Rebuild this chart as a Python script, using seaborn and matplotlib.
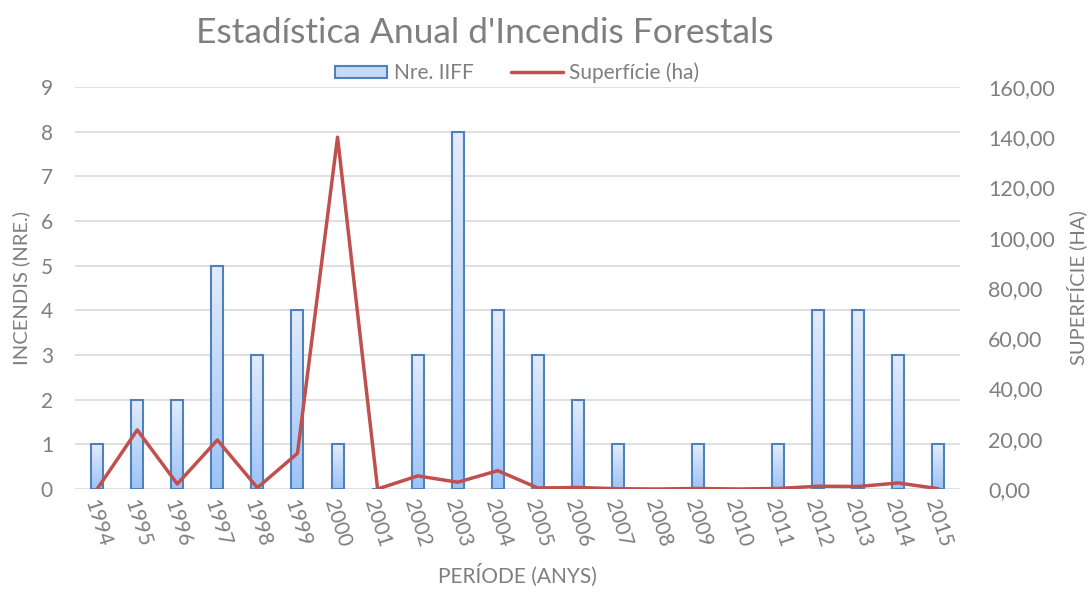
import numpy as np
import pandas as pd
import seaborn as sns
from matplotlib import pyplot as plt
from matplotlib.ticker import FuncFormatter
from matplotlib.patches import Patch
from matplotlib.lines import Line2D

years = [str(y) for y in range(1994, 2016)]
n_iiff = [1, 2, 2, 5, 3, 4, 1, 0, 3, 8, 4, 3, 2, 1, 0, 1, 0, 1, 4, 4, 3, 1]
superficie = [0.0, 23.5, 2.0, 19.5, 0.5, 14.2, 140.0, 0.0, 5.2, 2.7, 7.3, 0.4,
              0.6, 0.1, 0.0, 0.2, 0.0, 0.2, 1.1, 1.0, 2.4, 0.1]

df = pd.DataFrame({'any': years, 'nre': n_iiff, 'ha': superficie})

sns.set_theme(style='white')
plt.rcParams['font.family'] = ['Lato', 'DejaVu Sans']
grey = '#7f7f7f'
bar_edge = '#4f81bd'
line_col = '#c0504d'

fig = plt.figure(figsize=(10.89, 5.93), dpi=100)
ax = fig.add_axes([0.069, 0.1754, 0.813, 0.678])

sns.barplot(data=df, x='any', y='nre', ax=ax, width=0.3,
            color='#c6d9f7', edgecolor=bar_edge, linewidth=1.5, zorder=3)

# gradient fill inside the bars
grad = np.linspace(0, 1, 256).reshape(-1, 1)
cmap = sns.blend_palette(['#9dc3f7', '#e3ecfc'], as_cmap=True)
for p in ax.patches:
    if p.get_height() <= 0:
        continue
    x0, y0 = p.get_x(), p.get_y()
    im = ax.imshow(grad, extent=[x0, x0 + p.get_width(), y0, y0 + p.get_height()],
                   origin='lower', cmap=cmap, aspect='auto', zorder=3)
    im.set_clip_path(p)
    p.set_zorder(4)
    p.set_facecolor('none')

ax.set_xlim(-0.55, 21.55)
ax.set_ylim(0, 9)
ax.set_yticks(range(0, 10))
ax.grid(axis='y', color='#d9d9d9', linewidth=1.2, zorder=0)
ax.set_axisbelow(True)

ax2 = ax.twinx()
sns.lineplot(x=np.arange(len(years)), y=df['ha'].values, ax=ax2,
             color=line_col, linewidth=2.5, legend=False)
ax2.set_ylim(0, 160)
ax2.set_yticks(range(0, 161, 20))
ax2.yaxis.set_major_formatter(FuncFormatter(lambda v, _: f'{v:.2f}'.replace('.', ',')))
ax.set_xlim(-0.55, 21.55)

for a in (ax, ax2):
    for s in a.spines.values():
        s.set_visible(False)

ax.tick_params(axis='x', length=0, colors=grey, labelsize=15, pad=6, labelrotation=-72)
ax.tick_params(axis='y', length=0, colors=grey, labelsize=15, pad=16)
ax2.tick_params(axis='y', length=0, colors=grey, labelsize=15.5, pad=20)
for t in ax.get_xticklabels():
    t.set_ha('center')
    t.set_va('top')

ax.set_xlabel('PERÍODE (ANYS)', color=grey, fontsize=15, labelpad=10)
ax.set_ylabel('INCENDIS (NRE.)', color=grey, fontsize=14.5, labelpad=8)
ax2.set_ylabel('SUPERFÍCIE (HA)', color=grey, fontsize=14.5, labelpad=8)

fig.text(0.445, 0.945, "Estadística Anual d'Incendis Forestals", color=grey,
         fontsize=25.5, ha='center', va='center')

handles = [Patch(facecolor='#c6d9f7', edgecolor=bar_edge, linewidth=1.5),
           Line2D([], [], color=line_col, linewidth=2.5)]
leg = fig.legend(handles, ['Nre. IIFF', 'Superfície (ha)'], loc='center',
                 bbox_to_anchor=(0.475, 0.877), ncol=2, frameon=False, fontsize=15,
                 handlelength=2.5, handleheight=0.55, columnspacing=1.8, handletextpad=0.3)
for t in leg.get_texts():
    t.set_color(grey)

plt.savefig('out.png', dpi=100)
